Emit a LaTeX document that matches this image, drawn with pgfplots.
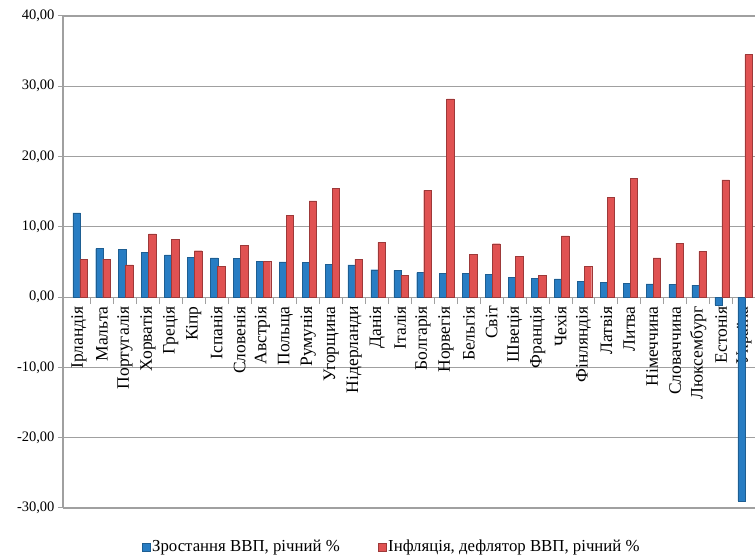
\documentclass[border=0pt]{standalone}
\usepackage{fontspec}
\setmainfont{Liberation Serif}
\usepackage{pgfplots}
\pgfplotsset{compat=1.18}
\usepackage{pgfplotstable}
\definecolor{gdpblue}{RGB}{40,125,195}
\definecolor{inflred}{RGB}{224,82,82}
\definecolor{gridgray}{RGB}{160,160,160}
\pgfplotstableread{
idx blue red
0 12.0 5.4
1 6.9 5.4
2 6.8 4.6
3 6.4 9.0
4 6.0 8.2
5 5.7 6.6
6 5.6 4.4
7 5.5 7.4
8 5.1 5.1
9 5.0 11.6
10 4.9 13.7
11 4.7 15.5
12 4.6 5.4
13 3.9 7.8
14 3.8 3.1
15 3.5 15.2
16 3.4 28.2
17 3.4 6.1
18 3.2 7.6
19 2.8 5.8
20 2.7 3.1
21 2.6 8.7
22 2.2 4.4
23 2.1 14.2
24 2.0 16.9
25 1.9 5.6
26 1.8 7.7
27 1.7 6.5
28 -1.1 16.7
29 -29.0 34.5
}\datatable
\begin{document}
\begin{tikzpicture}
\begin{axis}[
  scale only axis,
  width=692pt, height=492pt,
  xmin=-0.70, xmax=29.48,
  ymin=-30, ymax=40,
  ytick={-30,-20,...,40},
  ymajorgrids,
  grid style={gridgray, line width=1.2pt},
  axis x line*=middle,
  axis y line*=left,
  axis line style={gridgray, line width=1.2pt},
  xtick={0,...,29},
  minor xtick={0.5,1.5,...,28.5},
  xticklabels={Ірландія,Мальта,Португалія,Хорватія,Греція,Кіпр,Іспанія,Словенія,Австрія,Польща,Румунія,Угорщина,Нідерланди,Данія,Італія,Болгарія,Норвегія,Бельгія,Світ,Швеція,Франція,Чехія,Фінляндія,Латвія,Литва,Німеччина,Словаччина,Люксембург,Естонія,Україна},
  xticklabel style={rotate=90, anchor=east, font=\fontsize{17.5}{17.5}\selectfont, inner sep=4pt},
  major x tick style={draw=none},
  minor x tick style={gridgray, line width=1pt},
  xtick align=outside,
  minor tick length=7pt,
  ytick align=outside,
  major tick length=5pt,
  ytick style={gridgray, line width=1pt},
  yticklabel style={font=\fontsize{14.5}{14.5}\selectfont},
  /pgf/number format/.cd, fixed, fixed zerofill, precision=2, use comma, assume math mode=true,
  /pgfplots/.cd,
  ybar=0pt,
  bar width=7.5pt,
  legend style={at={(axis description cs:0.475,-0.079)}, anchor=center, draw=none,
    font=\fontsize{16.8}{16.8}\selectfont, legend columns=2,
    /tikz/every even column/.append style={column sep=36pt}},
  legend image code/.code={\fill[#1] (0pt,-4pt) rectangle (8pt,4pt);},
]
\addplot[fill=gdpblue, draw=gdpblue!75!black, line width=0.4pt, bar shift=-2.5pt] table[x=idx,y=blue]{\datatable};
\addlegendentry{Зростання ВВП, річний \%}
\addplot[fill=inflred, draw=inflred!70!black, line width=0.4pt, bar shift=4.5pt] table[x=idx,y=red]{\datatable};
\addlegendentry{Інфляція, дефлятор ВВП, річний \%}
\end{axis}
\pgfresetboundingbox
\path[use as bounding box] ([xshift=-63pt,yshift=-47pt]current axis.south west) rectangle ([yshift=16pt]current axis.north east);
\end{tikzpicture}
\end{document}
